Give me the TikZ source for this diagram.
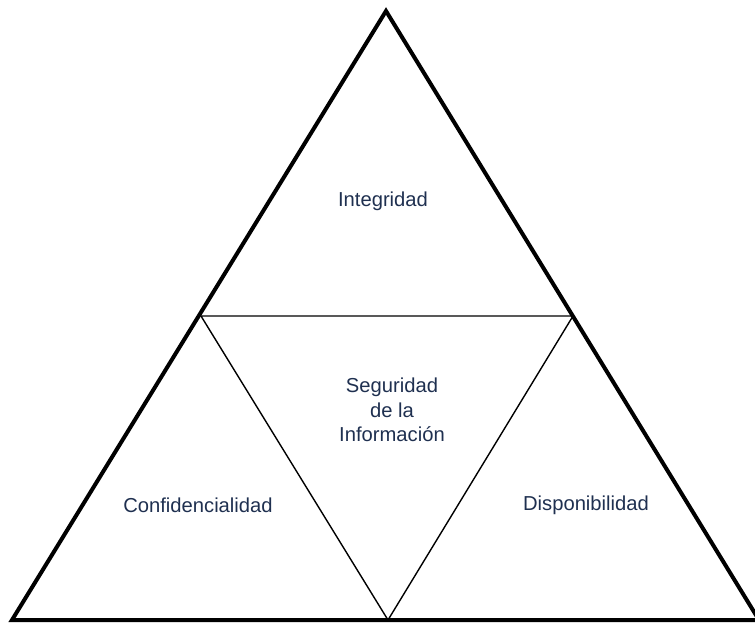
\documentclass[tikz,border=0pt]{standalone}
\usepackage{fontspec}
\setmainfont{Liberation Sans}
\definecolor{labelnavy}{HTML}{1F3050}
\begin{document}
\begin{tikzpicture}[x=1pt,y=-1pt,
  outer/.style={line width=4pt,line join=miter},
  inner/.style={line width=1.4pt},
  lbl/.style={text=labelnavy,font=\fontsize{20.2}{24.5}\selectfont,align=center,inner sep=0pt}]
  \useasboundingbox (0,0) rectangle (755,622);
  % outer triangle corners
  \coordinate (top) at (386,11);
  \coordinate (bl) at (12,620);
  \coordinate (br) at (759,620);
  % inner triangle corners (edge midpoints)
  \coordinate (ml) at (201,316);
  \coordinate (mr) at (573,316);
  \coordinate (mb) at (388,620);
  \draw[inner] (ml) -- (mr) -- (mb) -- cycle;
  \draw[outer] (top) -- (bl) -- (br) -- cycle;
  % labels
  \node[lbl] (integ) at (383,201) {Integridad};
  \node[lbl] (segur) at (392,410) {Seguridad\\de la\\Información};
  \node[lbl] (conf) at (198,505) {Confidencialidad};
  \node[lbl] (disp) at (586,505) {Disponibilidad};
\end{tikzpicture}
\end{document}
